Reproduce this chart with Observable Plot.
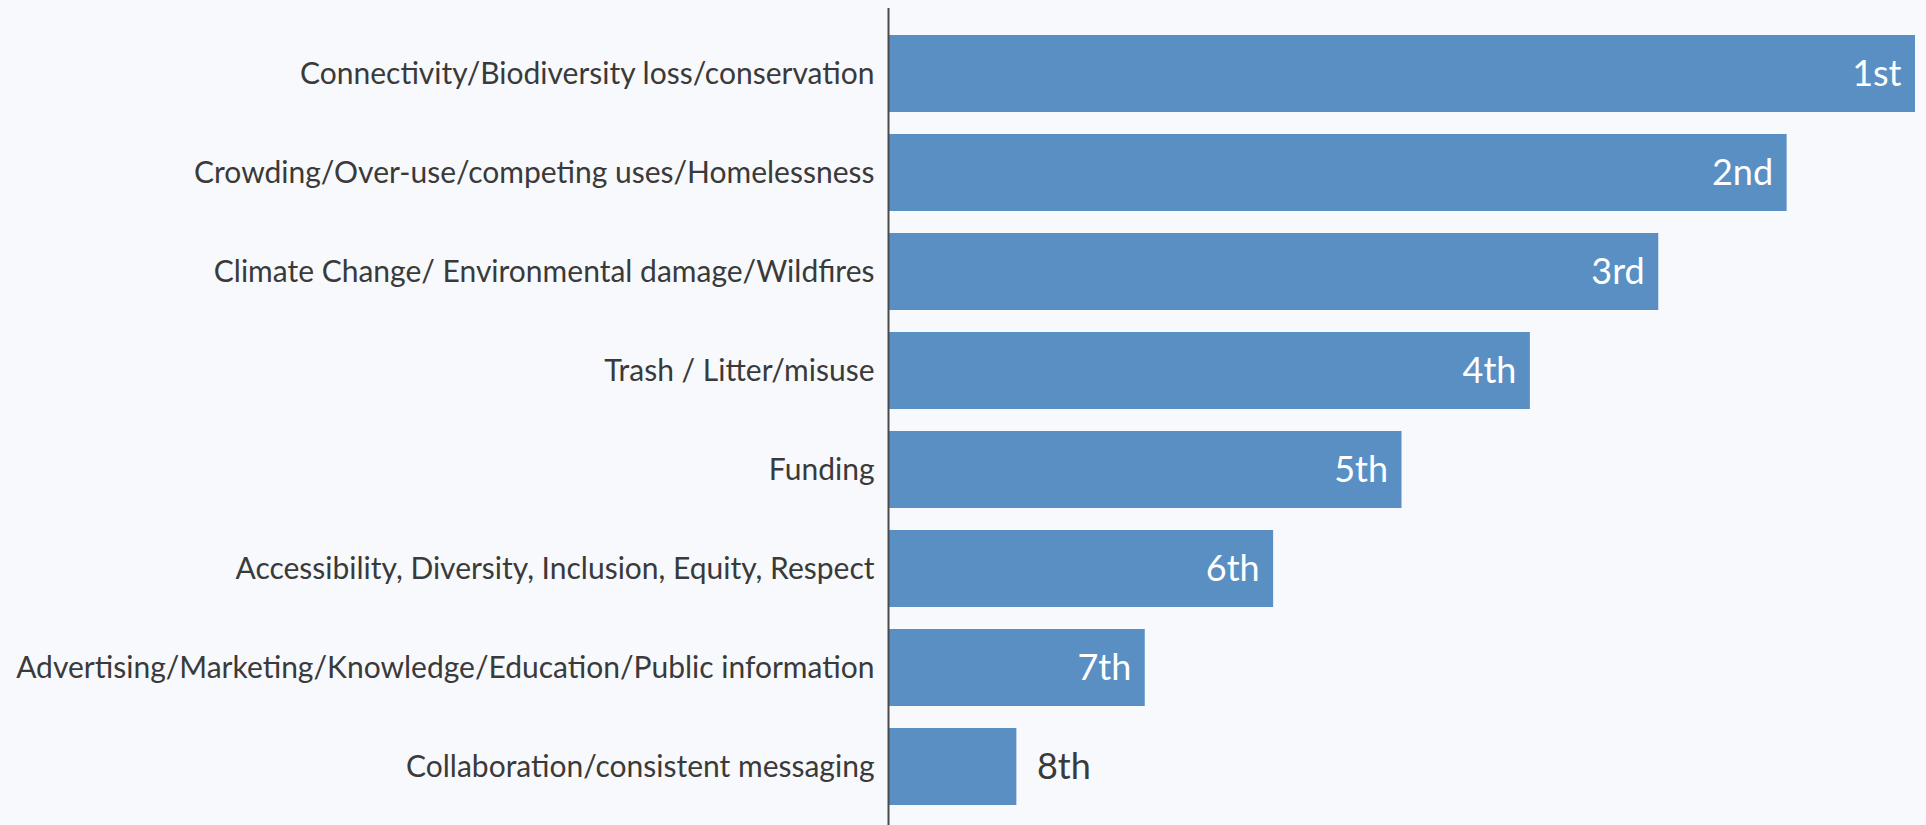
<!DOCTYPE html>
<html>
<head>
<meta charset="utf-8">
<script src="https://cdn.jsdelivr.net/npm/d3@7"></script>
<script src="https://cdn.jsdelivr.net/npm/@observablehq/plot@0.6"></script>
<style>
  html, body { margin: 0; padding: 0; background: #f7f9fc; }
  #chart svg { display: block; background: #f7f9fc; }
</style>
</head>
<body>
<div id="chart"></div>
<script>
const categories = [
  "Connectivity/Biodiversity loss/conservation",
  "Crowding/Over-use/competing uses/Homelessness",
  "Climate Change/ Environmental damage/Wildfires",
  "Trash / Litter/misuse",
  "Funding",
  "Accessibility, Diversity, Inclusion, Equity, Respect",
  "Advertising/Marketing/Knowledge/Education/Public information",
  "Collaboration/consistent messaging"
];
const scores = [8, 7, 6, 5, 4, 3, 2, 1];
const rankLabels = ["1st", "2nd", "3rd", "4th", "5th", "6th", "7th", "8th"];

const data = categories.map((c, i) => ({category: c, score: scores[i], rank: rankLabels[i]}));

const chart = Plot.plot({
  width: 1926,
  height: 825,
  marginLeft: 888,
  marginRight: 11,
  marginTop: 21,
  marginBottom: 6,
  style: {background: "#f7f9fc", fontFamily: "Lato, sans-serif", color: "#3a3a3a"},
  x: {domain: [0, 8], axis: null},
  y: {domain: categories, paddingInner: 0.22, paddingOuter: 0.11, label: null},
  marks: [
    Plot.barX(data, {y: "category", x: "score", fill: "#5a8fc4"}),
    Plot.ruleX([0], {stroke: "#4a4a4a", strokeWidth: 2, insetTop: -13, insetBottom: -7}),
    Plot.axisY({tickSize: 0, tickPadding: 14, fontSize: 30, label: null, fill: "#3a3a3a"}),
    Plot.text(data.filter(d => d.score > 1), {y: "category", x: "score", text: "rank", textAnchor: "end", dx: -14, fill: "white", fontSize: 36}),
    Plot.text(data.filter(d => d.score <= 1), {y: "category", x: "score", text: "rank", textAnchor: "start", dx: 20, fill: "#3a3a3a", fontSize: 36})
  ]
});
document.getElementById("chart").appendChild(chart);
</script>
</body>
</html>
